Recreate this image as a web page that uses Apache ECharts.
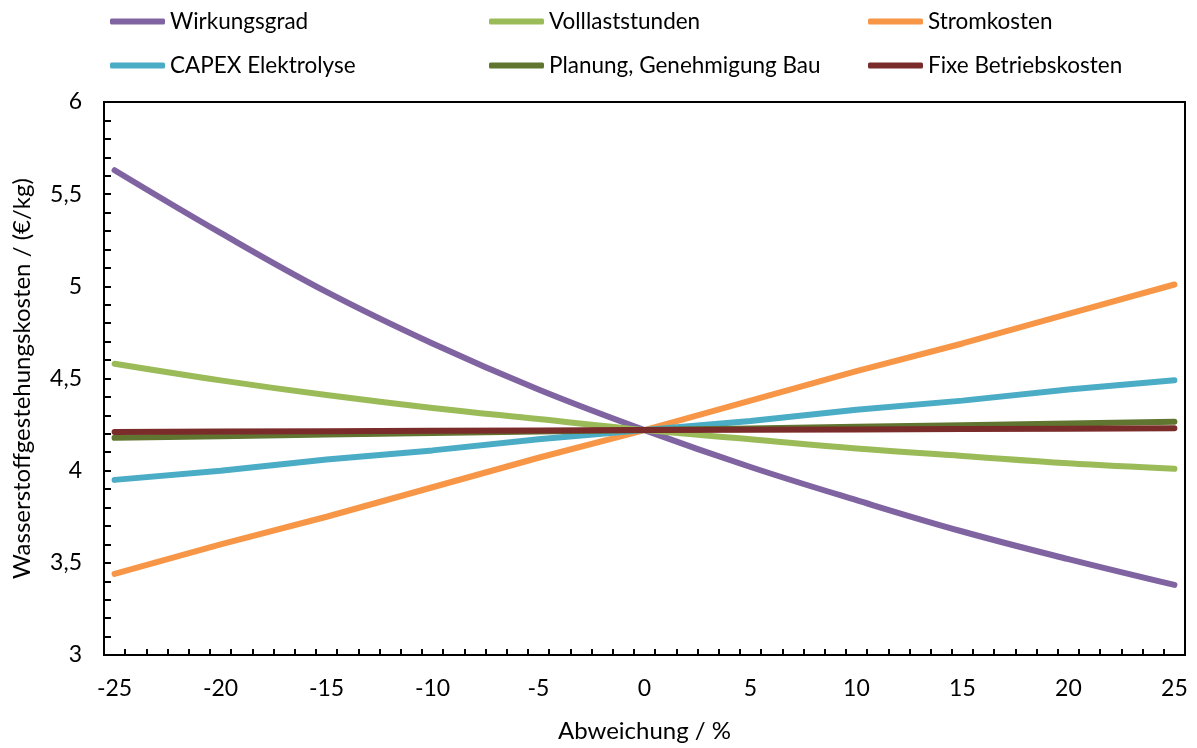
<!DOCTYPE html>
<html>
<head>
<meta charset="utf-8">
<script src="https://cdn.jsdelivr.net/npm/echarts@6/dist/echarts.min.js"></script>
<style>
html,body{margin:0;padding:0;background:#fff;}
#chart{width:1197px;height:748px;}
</style>
</head>
<body>
<div id="chart"></div>
<script>
// Categories (Abweichung / %)
var categories = [];
for (var c = -25; c <= 25; c++) categories.push(String(c));

// Points at every 5 %
var xPoints = ['-25','-20','-15','-10','-5','0','5','10','15','20','25'];
var wirkungsgrad     = [5.63, 5.29, 4.97, 4.69, 4.44, 4.22, 4.02, 3.84, 3.67, 3.52, 3.38];
var volllaststunden  = [4.58, 4.49, 4.41, 4.34, 4.28, 4.22, 4.17, 4.12, 4.08, 4.04, 4.01];
var stromkosten      = [3.44, 3.60, 3.75, 3.91, 4.07, 4.22, 4.38, 4.54, 4.69, 4.85, 5.01];
var capexElektrolyse = [3.95, 4.00, 4.06, 4.11, 4.17, 4.22, 4.27, 4.33, 4.38, 4.44, 4.49];
var planungBau       = [4.178, 4.187, 4.196, 4.204, 4.212, 4.22, 4.229, 4.238, 4.247, 4.256, 4.265];
var fixeBetrieb      = [4.210, 4.212, 4.214, 4.216, 4.218, 4.220, 4.222, 4.224, 4.226, 4.228, 4.230];

var seriesNames = ['Wirkungsgrad','Volllaststunden','Stromkosten','CAPEX Elektrolyse','Planung, Genehmigung Bau','Fixe Betriebskosten'];
var seriesValues = [wirkungsgrad, volllaststunden, stromkosten, capexElektrolyse, planungBau, fixeBetrieb];
var colors = ['#8064A2','#9BBB59','#F79646','#4BACC6','#5F7530','#7A2C2A'];
var smoothFlags = [true, true, false, false, false, false];

var FONT = 'Lato, "Noto Sans", sans-serif';

function pairs(vals){
  return xPoints.map(function(x,i){ return [x, vals[i]]; });
}

var series = seriesNames.map(function(n,i){
  return {
    name: n,
    type: 'line',
    data: pairs(seriesValues[i]),
    symbol: 'none',
    smooth: smoothFlags[i] ? 0.4 : false,
    lineStyle: {width: 6, color: colors[i], cap: 'round'},
    itemStyle: {color: colors[i]},
    z: 2 + i
  };
});

function legendCol(left, names){
  return {
    left: left, top: 10, padding: 0, orient: 'vertical', itemGap: 21,
    itemWidth: 55, itemHeight: 6, icon: 'roundRect',
    data: names,
    textStyle: {fontFamily: FONT, fontSize: 22.5, color: '#000'}
  };
}

var chart = echarts.init(document.getElementById('chart'), null, {renderer: 'canvas'});
chart.setOption({
  animation: false,
  color: colors,
  legend: [
    legendCol(110, ['Wirkungsgrad','CAPEX Elektrolyse']),
    legendCol(489, ['Volllaststunden','Planung, Genehmigung Bau']),
    legendCol(868, ['Stromkosten','Fixe Betriebskosten'])
  ],
  grid: {left: 104, right: 12, top: 102, bottom: 91, show: true, borderColor: '#000', borderWidth: 2, containLabel: false},
  xAxis: {
    type: 'category',
    data: categories,
    boundaryGap: true,
    name: 'Abweichung / %',
    nameLocation: 'middle',
    nameGap: 64,
    nameTextStyle: {fontFamily: FONT, fontSize: 24, color: '#000'},
    axisLine: {lineStyle: {color: '#000', width: 2}},
    axisTick: {show: true, inside: true, interval: 0, length: 6, lineStyle: {color: '#000', width: 2}},
    axisLabel: {interval: 4, margin: 22, fontFamily: FONT, fontSize: 23, color: '#000'},
    splitLine: {show: false}
  },
  yAxis: {
    type: 'value',
    min: 3, max: 6, interval: 0.5,
    name: 'Wasserstoffgestehungskosten / (€/kg)',
    nameLocation: 'middle',
    nameGap: 70,
    nameTextStyle: {fontFamily: FONT, fontSize: 24, color: '#000'},
    axisLine: {show: true, lineStyle: {color: '#000', width: 2}},
    axisTick: {show: true, inside: true, length: 7, lineStyle: {color: '#000', width: 2}},
    minorTick: {show: true, splitNumber: 5, length: 7, lineStyle: {color: '#000', width: 2}},
    axisLabel: {margin: 22, fontFamily: FONT, fontSize: 23, color: '#000',
      formatter: function(v){ return String(v).replace('.', ','); }},
    splitLine: {show: false},
    minorSplitLine: {show: false}
  },
  series: series
});
</script>
</body>
</html>
